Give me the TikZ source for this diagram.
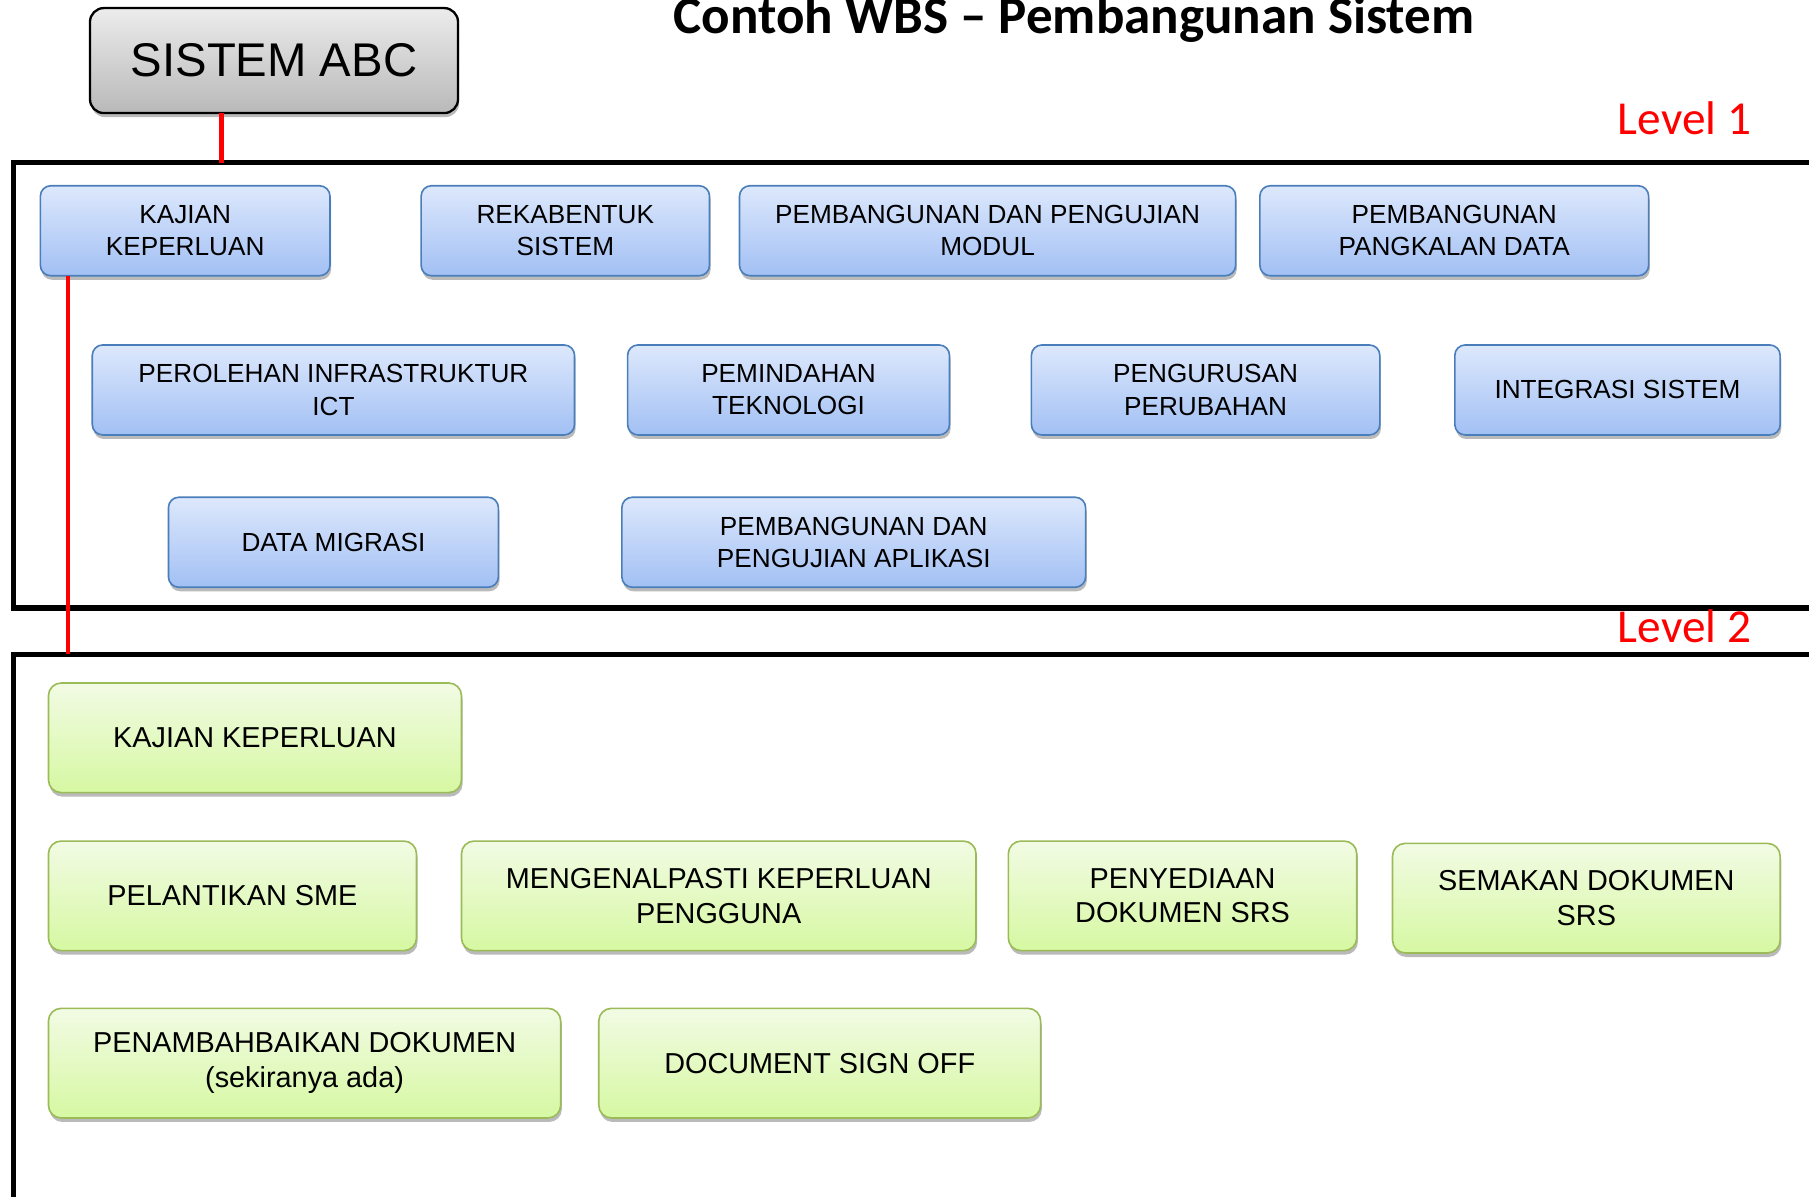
\documentclass[tikz,border=0pt]{standalone}
\usepackage{fontspec}
\setmainfont{Liberation Sans}
\newfontfamily\calibri{Carlito}
\usepackage{tikz}
\usetikzlibrary{positioning}
\usetikzlibrary{shadows}

\definecolor{blueline}{HTML}{4A7EBB}
\definecolor{bluetop}{HTML}{DDE8FC}
\definecolor{bluebot}{HTML}{A2C0F4}
\definecolor{greenline}{HTML}{9BBB59}
\definecolor{greentop}{HTML}{F2FBE4}
\definecolor{greenbot}{HTML}{D6F8A2}

\tikzset{
  boxshadow/.style={drop shadow={shadow xshift=1pt, shadow yshift=-3.5pt, fill=black!45, opacity=.6}},
  topbox/.style={draw=black, line width=2pt, rounded corners=12pt, top color=gray!15, bottom color=gray!55, boxshadow,
    minimum width=319pt, minimum height=91pt, inner sep=0pt, outer sep=0pt, font=\fontsize{41}{49}\selectfont},
  lvlone/.style={draw=blueline, line width=1.4pt, rounded corners=9pt, top color=bluetop, bottom color=bluebot, boxshadow,
    minimum height=78pt, inner sep=0pt, outer sep=0pt, align=center, font=\fontsize{22.7}{28}\selectfont},
  lvltwo/.style={draw=greenline, line width=1.4pt, rounded corners=11pt, top color=greentop, bottom color=greenbot, boxshadow,
    minimum height=95pt, inner sep=0pt, outer sep=0pt, align=center, font=\fontsize{25}{30}\selectfont},
  frame/.style={line width=4.5pt},
  redline/.style={red, line width=3.5pt},
  levellabel/.style={red, inner sep=0pt, anchor=base east, font=\calibri\fontsize{41}{45}\selectfont}
}

\begin{document}
\begin{tikzpicture}[x=1pt, y=1pt]
  \useasboundingbox (0,0) rectangle (1568,-1037);

  \node[anchor=base, inner sep=0pt, font=\calibri\bfseries\fontsize{46}{50}\selectfont] (judul) at (931,-29) {Contoh WBS – Pembangunan Sistem};
  \node[topbox, anchor=north west] (sistem) at (78,-7) {SISTEM ABC};

  % frames
  \draw[frame] (1580,-141) -- (12,-141) -- (12,-527) -- (1580,-527);
  \draw[frame] (1580,-567) -- (12,-567) -- (12,-1045);
  \node[levellabel] (lvla) at (1518,-117) {Level 1};
  \node[levellabel] (lvlb) at (1518,-557) {Level 2};

  % level 1
  \node[lvlone, anchor=north west, minimum width=251pt] (kajian) at (35,-161) {KAJIAN\\KEPERLUAN};
  \node[lvlone, minimum width=250pt, right=79pt of kajian] (rekabentuk) {REKABENTUK\\SISTEM};
  \node[lvlone, minimum width=430pt, right=26pt of rekabentuk] (modul) {PEMBANGUNAN DAN PENGUJIAN\\MODUL};
  \node[lvlone, minimum width=337pt, right=21pt of modul] (pangkalan) {PEMBANGUNAN\\PANGKALAN DATA};

  \node[lvlone, anchor=north west, minimum width=418pt] (perolehan) at (80,-299) {PEROLEHAN INFRASTRUKTUR\\ICT};
  \node[lvlone, minimum width=279pt, right=46pt of perolehan] (teknologi) {PEMINDAHAN\\TEKNOLOGI};
  \node[lvlone, minimum width=302pt, right=71pt of teknologi] (perubahan) {PENGURUSAN\\PERUBAHAN};
  \node[lvlone, minimum width=282pt, right=65pt of perubahan] (integrasi) {INTEGRASI SISTEM};

  \node[lvlone, anchor=north west, minimum width=286pt] (migrasi) at (146,-431) {DATA MIGRASI};
  \node[lvlone, minimum width=402pt, right=107pt of migrasi] (aplikasi) {PEMBANGUNAN DAN\\PENGUJIAN APLIKASI};

  % level 2
  \node[lvltwo, anchor=north west, minimum width=358pt] (kajiandua) at (42,-592) {KAJIAN KEPERLUAN};

  \node[lvltwo, anchor=north west, minimum width=319pt] (sme) at (42,-729) {PELANTIKAN SME};
  \node[lvltwo, minimum width=446pt, right=39pt of sme] (pengguna) {MENGENALPASTI KEPERLUAN\\PENGGUNA};
  \node[lvltwo, minimum width=302pt, right=28pt of pengguna] (srs) {PENYEDIAAN\\DOKUMEN SRS};
  \node[lvltwo, minimum width=336pt, right=31pt of srs, yshift=-2pt] (semakan) {SEMAKAN DOKUMEN\\SRS};

  \node[lvltwo, anchor=north west, minimum width=444pt] (penambahbaikan) at (42,-874) {PENAMBAHBAIKAN DOKUMEN\\(sekiranya ada)};
  \node[lvltwo, minimum width=383pt, right=33pt of penambahbaikan] (signoff) {DOCUMENT SIGN OFF};

  % connectors
  \coordinate (atasa) at (192,-141);
  \coordinate (atasb) at (59,-567);
  \draw[redline] (sistem.south -| atasa) -- (atasa);
  \draw[redline] (kajian.south -| atasb) -- (atasb);
\end{tikzpicture}
\end{document}
